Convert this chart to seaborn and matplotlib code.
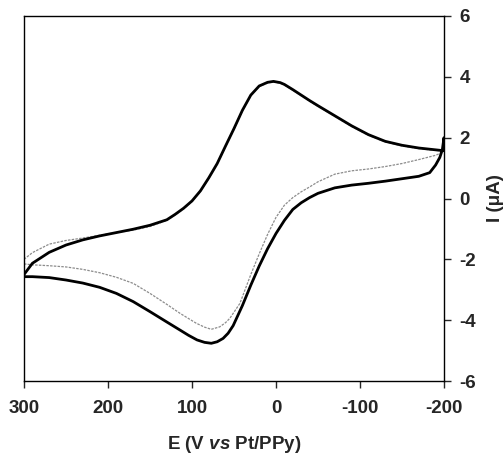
import numpy as np
import pandas as pd
import matplotlib
matplotlib.use('Agg')
import matplotlib.pyplot as plt
import seaborn as sns

# Potential (mV) / current (uA)
e_fwd = [300, 290, 270, 250, 230, 210, 190, 170, 150, 130, 120, 110, 100, 90, 80, 70, 60,
         50, 40, 30, 20, 10, 3, -5, -10, -20, -30, -40, -50, -70, -90, -110, -130, -150,
         -170, -190, -200]
i_black_fwd = [-2.50, -2.13, -1.77, -1.53, -1.36, -1.23, -1.12, -1.01, -0.88, -0.70, -0.52,
               -0.32, -0.08, 0.25, 0.68, 1.15, 1.73, 2.30, 2.90, 3.40, 3.70, 3.82, 3.85,
               3.81, 3.75, 3.58, 3.40, 3.22, 3.05, 2.72, 2.39, 2.10, 1.88, 1.75, 1.66,
               1.60, 1.57]
i_gray_fwd = [-2.00, -1.78, -1.50, -1.38, -1.30, -1.21, -1.12, -1.04, -0.92, -0.72, -0.54,
              -0.34, -0.10, 0.23, 0.66, 1.13, 1.71, 2.28, 2.88, 3.38, 3.68, 3.80, 3.83,
              3.79, 3.73, 3.56, 3.38, 3.20, 3.03, 2.70, 2.37, 2.08, 1.86, 1.73, 1.64,
              1.58, 1.57]

e_black_rev = [-200, -198, -195, -190, -183, -170, -150, -130, -110, -90, -70, -50, -40, -30,
               -20, -10, 0, 10, 20, 30, 40, 51, 57, 63, 70, 77, 85, 94, 104, 114, 130, 150,
               170, 190, 210, 230, 250, 270, 290, 300]
i_black_rev = [2.00, 1.60, 1.35, 1.10, 0.85, 0.73, 0.65, 0.57, 0.50, 0.44, 0.35, 0.17, 0.03,
               -0.14, -0.36, -0.72, -1.15, -1.65, -2.22, -2.85, -3.52, -4.18, -4.43, -4.60,
               -4.71, -4.76, -4.73, -4.65, -4.50, -4.33, -4.06, -3.72, -3.39, -3.12, -2.92,
               -2.78, -2.68, -2.60, -2.57, -2.57]

e_gray_rev = [-200, -195, -190, -170, -150, -130, -110, -90, -70, -50, -40, -30, -20, -10, 0,
              10, 20, 30, 43, 55, 60, 67, 77, 85, 95, 114, 130, 150, 170, 190, 210, 230,
              250, 270, 290, 300]
i_gray_rev = [1.60, 1.48, 1.42, 1.28, 1.15, 1.05, 0.97, 0.91, 0.80, 0.55, 0.38, 0.22, 0.03,
              -0.22, -0.62, -1.18, -1.82, -2.50, -3.45, -3.94, -4.08, -4.22, -4.30, -4.23,
              -4.10, -3.78, -3.48, -3.12, -2.79, -2.59, -2.44, -2.33, -2.25, -2.21, -2.18,
              -2.15]

x_ticks = [300, 200, 100, 0, -100, -200]
y_ticks = [-6, -4, -2, 0, 2, 4, 6]

black = pd.DataFrame({'E': e_fwd + e_black_rev, 'I': i_black_fwd + i_black_rev})
gray = pd.DataFrame({'E': e_fwd + e_gray_rev, 'I': i_gray_fwd + i_gray_rev})

sns.set_style('ticks')
plt.rcParams['font.family'] = ['Liberation Sans', 'DejaVu Sans']
plt.rcParams['font.weight'] = 'bold'
plt.rcParams['axes.unicode_minus'] = False
plt.rcParams['mathtext.fontset'] = 'custom'
plt.rcParams['mathtext.it'] = 'Liberation Sans:italic:bold'
plt.rcParams['mathtext.rm'] = 'Liberation Sans:bold'

fig = plt.figure(figsize=(5.03, 4.54), dpi=100)
ax = fig.add_axes([24 / 503, 1 - 381 / 454, 420 / 503, 365 / 454])

sns.lineplot(data=gray, x='E', y='I', sort=False, estimator=None, ax=ax,
             color='#8c8c8c', lw=0.9, linestyle=(0, (2, 1)))
sns.lineplot(data=black, x='E', y='I', sort=False, estimator=None, ax=ax,
             color='black', lw=2.0)

ax.set_xlim(300, -200)
ax.set_ylim(-6, 6)
ax.set_xticks(x_ticks)
ax.set_yticks(y_ticks)
ax.yaxis.tick_right()
ax.yaxis.set_label_position('right')
for s in ax.spines.values():
    s.set_visible(True)
    s.set_linewidth(1.0)
    s.set_color('black')
ax.tick_params(axis='x', direction='out', length=5, width=1, pad=9, labelsize=13.5)
ax.tick_params(axis='y', direction='out', length=5, width=1, pad=6, labelsize=13.5)
for lab in ax.get_xticklabels() + ax.get_yticklabels():
    lab.set_fontweight('bold')

ax.set_xlabel(r'E (V $\it{vs}$ Pt/PPy)', fontsize=13.5, fontweight='bold', labelpad=12)
ax.set_ylabel('I (μA)', fontsize=13.5, fontweight='bold', labelpad=8)

plt.savefig('out.png', dpi=100)
plt.close()
